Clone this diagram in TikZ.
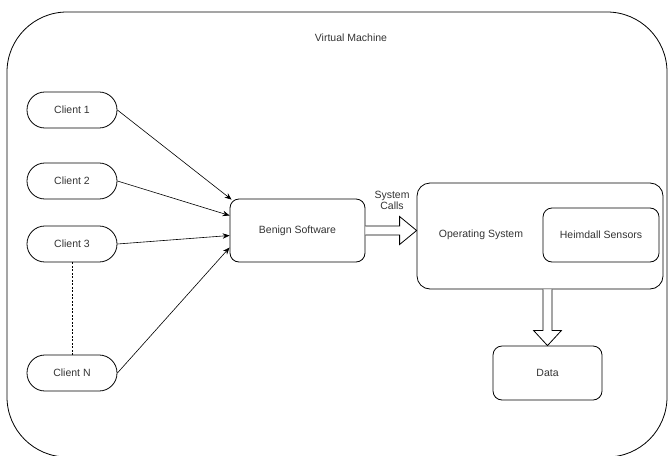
\documentclass[tikz,border=0pt]{standalone}
\usepackage{fontspec}
\setmainfont{Liberation Sans}
\usetikzlibrary{calc,arrows.meta}
\begin{document}
\begin{tikzpicture}[x=1pt,y=-1pt,
  every node/.style={font=\fontsize{10.5}{12.5}\selectfont, text=black!80},
  client/.style={draw, line width=0.8pt, rounded corners=17.9pt, minimum width=90pt, minimum height=36pt, inner sep=0pt},
  box/.style={draw, line width=0.8pt, rounded corners=9pt, inner sep=0pt},
  feed/.style={-{Stealth[length=7pt,width=5.5pt]}, line width=0.6pt},
  hollow/.style={draw, line width=0.8pt, fill=white, line join=miter}
]
\useasboundingbox (0,0) rectangle (668,455);
\begin{scope}
  \clip (0,0) rectangle (668,455);
  % outer virtual machine frame
  \draw[line width=0.8pt, rounded corners=60pt] (7,12) rectangle (667,457);
\end{scope}
\node (vm) at (351,38) {Virtual Machine};

% clients
\node[client] (c1) at (72,110) {Client 1};
\node[client] (c2) at (72,181) {Client 2};
\node[client] (c3) at (72,244) {Client 3};
\node[client] (cn) at (72,373) {Client N};
\draw[dashed, line width=0.6pt, dash pattern=on 2pt off 1.5pt] (c3.south) -- (cn.north);

% software and operating system
\node[box, minimum width=135pt, minimum height=63pt] (bs) at (297.5,230.5) {Benign Software};
\node[box, rounded corners=13pt, minimum width=246pt, minimum height=106pt] (os) at (540,236) {};
\node (ostext) at (481,235) {Operating System};
\node[box, minimum width=116pt, minimum height=54pt] (hs) at (601,235) {Heimdall Sensors};
\node[box, minimum width=109pt, minimum height=54pt] (data) at (547.5,373) {Data};

% client requests
\draw[feed] (c1.east) -- ($(bs.north west)+(2,1)$);
\draw[feed] (c2.east) -- ($(bs.west)+(0,-15)$);
\draw[feed] (c3.east) -- ($(bs.west)+(0,5)$);
\draw[feed] (cn.east) -- ($(bs.west)+(0,17)$);

% system calls into the operating system
\coordinate (sc0) at (bs.east);
\coordinate (sc1) at (bs.east -| os.west);
\draw[hollow] ($(sc0)+(0,-4.5)$) -- ($(sc1)+(-17,-4.5)$) -- ($(sc1)+(-17,-14)$) -- (sc1)
  -- ($(sc1)+(-17,14)$) -- ($(sc1)+(-17,4.5)$) -- ($(sc0)+(0,4.5)$);
\node[align=center, inner sep=0pt] (sclabel) at (392,200.5) {System\\[-1.5pt]Calls};

% sensor output to data
\coordinate (d0) at (os.south -| data.north);
\draw[hollow] ($(d0)+(-4.5,0)$) -- ($(d0)+(-4.5,41)$) -- ($(d0)+(-14,41)$) -- (data.north)
  -- ($(d0)+(14,41)$) -- ($(d0)+(4.5,41)$) -- ($(d0)+(4.5,0)$);
\end{tikzpicture}
\end{document}
